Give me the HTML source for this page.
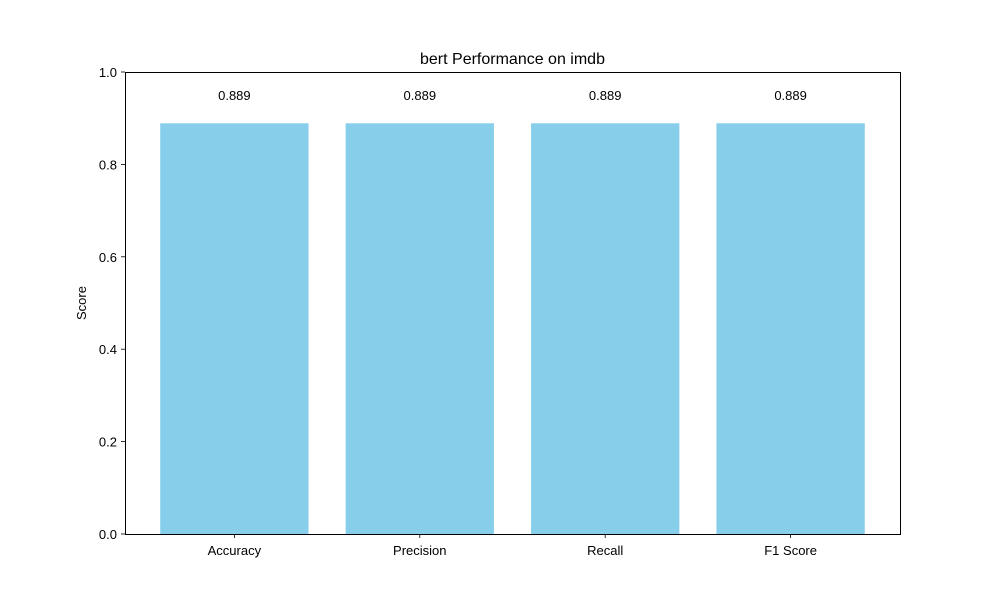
<!DOCTYPE html>
<html><head><meta charset="utf-8"><style>
body{margin:0;background:#fff;}
svg text{font-family:"Liberation Sans","DejaVu Sans",sans-serif;fill:#000;}
</style></head><body>
<svg id="chart" width="1000" height="600" viewBox="0 0 1000 600">
<rect width="1000" height="600" fill="#fff"/>
<text x="512.5" y="64" font-size="16" text-anchor="middle">bert Performance on imdb</text>
<g id="bars"></g>
<g id="axes"></g>
<text transform="translate(86,303) rotate(-90)" font-size="13" text-anchor="middle">Score</text>
</svg>
<script>
const categories = ["Accuracy","Precision","Recall","F1 Score"];
const values = [0.889,0.889,0.889,0.889];
const yTicks = [0.0,0.2,0.4,0.6,0.8,1.0];
const NS="http://www.w3.org/2000/svg";
const L=125,R=900,T=72,B=534;
const xmin=-0.59,xmax=categories.length-1+0.59;
const x=v=>L+(v-xmin)/(xmax-xmin)*(R-L);
const y=v=>B-(v-0)/(1-0)*(B-T);
function mk(tag,attrs,parent){const e=document.createElementNS(NS,tag);for(const k in attrs)e.setAttribute(k,attrs[k]);parent.appendChild(e);return e;}
const bars=document.getElementById('bars'),axes=document.getElementById('axes');
categories.forEach((c,i)=>{
  const r=mk('rect',{x:x(i-0.4),y:y(values[i]),width:x(i+0.4)-x(i-0.4),height:y(0)-y(values[i]),fill:'#87ceeb'},bars);
  
  
  const t=mk('text',{x:x(i),y:y(values[i]+0.05),'font-size':13,'text-anchor':'middle'},bars);
  t.textContent=values[i].toFixed(3);
  
  
  mk('line',{x1:x(i),x2:x(i),y1:B,y2:B+4,stroke:'#000','stroke-width':0.8},axes);
  const xl=mk('text',{x:x(i),y:B+21,'font-size':13,'text-anchor':'middle'},axes);
  xl.textContent=c;
  
  
});
yTicks.forEach(v=>{
  mk('line',{x1:L-4,x2:L,y1:y(v),y2:y(v),stroke:'#000','stroke-width':0.8},axes);
  const t=mk('text',{x:L-8,y:y(v)+5,'font-size':13,'text-anchor':'end'},axes);
  t.textContent=v.toFixed(1);
  
  
});
const f=mk('rect',{x:L+0.5,y:T+0.5,width:R-L,height:B-T,fill:'none',stroke:'#000','stroke-width':1},axes);


</script>
</body></html>
